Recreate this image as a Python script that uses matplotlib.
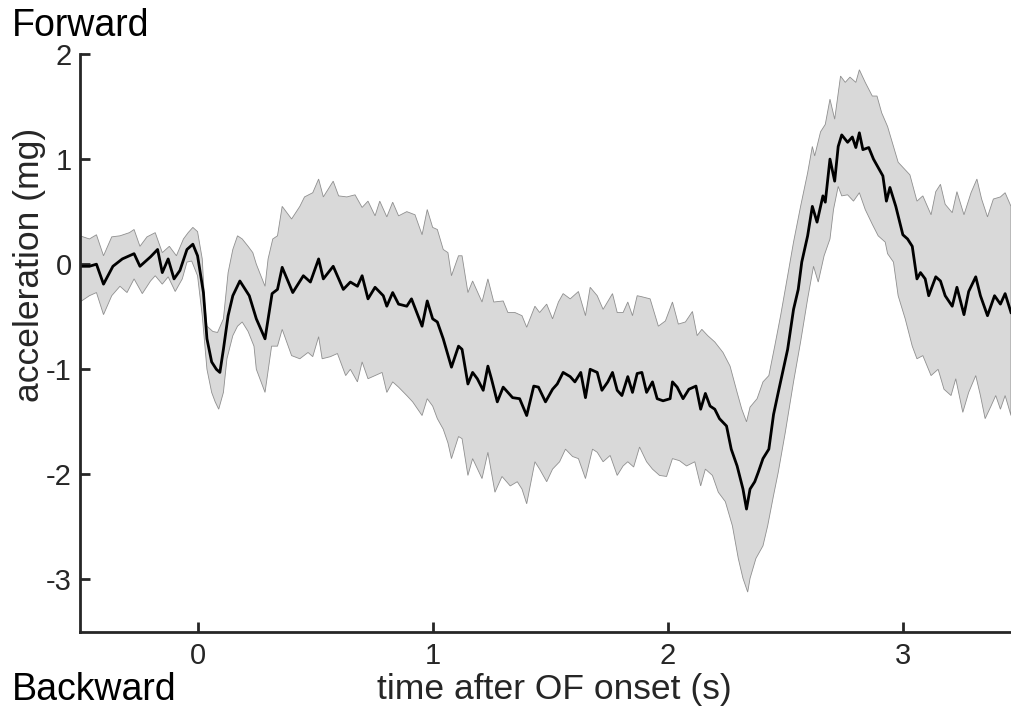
import matplotlib
matplotlib.use('Agg')
import matplotlib.pyplot as plt
import numpy as np

plt.rcParams['font.family'] = ['Liberation Sans', 'DejaVu Sans']
plt.rcParams['axes.unicode_minus'] = False

# === Mean acceleration trace ===
mean_t = [-0.5, -0.46, -0.43, -0.40, -0.36, -0.32, -0.27, -0.245, -0.20, -0.17,
          -0.15, -0.125, -0.10, -0.075, -0.045, -0.02, 0.0, 0.025, 0.04, 0.06,
          0.08, 0.095, 0.11, 0.13, 0.15, 0.18, 0.22, 0.25, 0.287, 0.317,
          0.34, 0.36, 0.405, 0.45, 0.48, 0.515, 0.535, 0.577, 0.62, 0.65,
          0.68, 0.70, 0.725, 0.755, 0.79, 0.805, 0.83, 0.855, 0.89, 0.91,
          0.955, 0.977, 1.0, 1.02, 1.045, 1.08, 1.11, 1.125, 1.15, 1.17,
          1.19, 1.215, 1.235, 1.25, 1.275, 1.30, 1.34, 1.37, 1.40, 1.43,
          1.45, 1.48, 1.51, 1.53, 1.555, 1.585, 1.605, 1.63, 1.65, 1.67,
          1.70, 1.72, 1.745, 1.765, 1.785, 1.805, 1.83, 1.85, 1.87, 1.89,
          1.91, 1.935, 1.955, 1.98, 2.01, 2.02, 2.04, 2.065, 2.09, 2.12,
          2.14, 2.16, 2.18, 2.20, 2.22, 2.25, 2.27, 2.295, 2.32, 2.335,
          2.35, 2.37, 2.385, 2.405, 2.43, 2.45, 2.47, 2.51, 2.535, 2.555,
          2.57, 2.595, 2.615, 2.635, 2.66, 2.67, 2.69, 2.71, 2.725, 2.74,
          2.765, 2.785, 2.80, 2.815, 2.83, 2.855, 2.875, 2.895, 2.915, 2.93,
          2.945, 2.97, 3.0, 3.02, 3.04, 3.06, 3.075, 3.095, 3.11, 3.14,
          3.16, 3.18, 3.21, 3.23, 3.26, 3.28, 3.31, 3.33, 3.36, 3.39,
          3.415, 3.435, 3.46]
mean_acc = [-0.02, -0.02, 0.00, -0.19, -0.02, 0.05, 0.10, -0.02, 0.07, 0.14,
            -0.08, 0.05, -0.14, -0.06, 0.14, 0.19, 0.08, -0.27, -0.71, -0.93,
            -1.00, -1.03, -0.81, -0.49, -0.30, -0.16, -0.30, -0.52, -0.71, -0.28,
            -0.24, -0.03, -0.27, -0.11, -0.17, 0.05, -0.14, -0.02, -0.24, -0.17,
            -0.21, -0.11, -0.33, -0.22, -0.30, -0.40, -0.27, -0.38, -0.40, -0.33,
            -0.59, -0.35, -0.52, -0.55, -0.71, -0.98, -0.78, -0.81, -1.14, -1.03,
            -1.09, -1.20, -0.97, -1.09, -1.31, -1.17, -1.27, -1.28, -1.44, -1.16,
            -1.17, -1.31, -1.19, -1.14, -1.03, -1.07, -1.12, -1.03, -1.27, -1.00,
            -1.03, -1.20, -1.12, -1.03, -1.20, -1.25, -1.07, -1.22, -1.04, -1.03,
            -1.22, -1.12, -1.28, -1.30, -1.28, -1.12, -1.17, -1.28, -1.19, -1.16,
            -1.38, -1.23, -1.35, -1.38, -1.47, -1.54, -1.76, -1.92, -2.14, -2.33,
            -2.14, -2.07, -1.98, -1.85, -1.76, -1.43, -1.22, -0.81, -0.43, -0.24,
            0.02, 0.27, 0.55, 0.40, 0.65, 0.59, 1.00, 0.79, 1.12, 1.23,
            1.16, 1.21, 1.11, 1.25, 1.09, 1.11, 1.00, 0.92, 0.84, 0.60,
            0.73, 0.55, 0.28, 0.24, 0.17, -0.14, -0.08, -0.14, -0.30, -0.12,
            -0.16, -0.30, -0.40, -0.22, -0.48, -0.26, -0.12, -0.30, -0.49, -0.30,
            -0.38, -0.28, -0.46]

# === Upper edge of the shaded band ===
upper_t = [-0.5, -0.46, -0.43, -0.40, -0.365, -0.33, -0.29, -0.27, -0.245, -0.215,
           -0.18, -0.15, -0.12, -0.09, -0.06, -0.04, -0.02, 0.0, 0.02, 0.03,
           0.04, 0.065, 0.085, 0.11, 0.13, 0.15, 0.17, 0.19, 0.215, 0.235,
           0.25, 0.287, 0.30, 0.32, 0.34, 0.36, 0.40, 0.435, 0.455, 0.49,
           0.515, 0.535, 0.577, 0.60, 0.635, 0.67, 0.70, 0.725, 0.755, 0.775,
           0.805, 0.83, 0.855, 0.89, 0.925, 0.955, 0.977, 1.0, 1.02, 1.045,
           1.065, 1.08, 1.11, 1.125, 1.15, 1.17, 1.21, 1.235, 1.26, 1.30,
           1.32, 1.35, 1.38, 1.40, 1.435, 1.455, 1.485, 1.51, 1.535, 1.555,
           1.585, 1.62, 1.65, 1.67, 1.70, 1.725, 1.765, 1.785, 1.81, 1.83,
           1.85, 1.87, 1.89, 1.925, 1.96, 1.99, 2.02, 2.045, 2.075, 2.105,
           2.125, 2.145, 2.17, 2.20, 2.235, 2.265, 2.295, 2.315, 2.335, 2.35,
           2.38, 2.405, 2.43, 2.455, 2.48, 2.51, 2.535, 2.565, 2.595, 2.615,
           2.625, 2.65, 2.67, 2.69, 2.71, 2.735, 2.755, 2.775, 2.80, 2.815,
           2.84, 2.87, 2.89, 2.91, 2.935, 2.98, 3.03, 3.06, 3.085, 3.12,
           3.14, 3.16, 3.18, 3.21, 3.23, 3.26, 3.29, 3.315, 3.335, 3.36,
           3.385, 3.415, 3.435, 3.46]
upper_acc = [0.27, 0.24, 0.28, 0.08, 0.26, 0.27, 0.30, 0.33, 0.17, 0.26,
             0.30, 0.11, 0.17, 0.08, 0.24, 0.30, 0.35, 0.31, 0.05, -0.36,
             -0.59, -0.64, -0.65, -0.52, -0.08, 0.14, 0.27, 0.24, 0.17, 0.11,
             0.00, -0.21, 0.05, 0.24, 0.27, 0.55, 0.43, 0.55, 0.64, 0.68,
             0.81, 0.64, 0.79, 0.65, 0.64, 0.66, 0.54, 0.60, 0.46, 0.60,
             0.45, 0.59, 0.46, 0.50, 0.47, 0.28, 0.52, 0.35, 0.33, 0.14,
             0.11, -0.11, 0.08, 0.08, -0.27, -0.16, -0.36, -0.14, -0.36, -0.35,
             -0.46, -0.46, -0.49, -0.60, -0.40, -0.46, -0.38, -0.52, -0.36, -0.28,
             -0.33, -0.26, -0.49, -0.22, -0.30, -0.43, -0.28, -0.46, -0.46, -0.36,
             -0.49, -0.30, -0.31, -0.33, -0.59, -0.54, -0.36, -0.57, -0.55, -0.45,
             -0.68, -0.62, -0.68, -0.74, -0.84, -0.97, -1.22, -1.38, -1.50, -1.36,
             -1.28, -1.12, -1.06, -0.78, -0.49, -0.11, 0.21, 0.55, 0.87, 1.12,
             1.03, 1.26, 1.33, 1.57, 1.38, 1.79, 1.73, 1.78, 1.73, 1.85,
             1.73, 1.60, 1.60, 1.44, 1.31, 0.97, 0.85, 0.60, 0.65, 0.47,
             0.69, 0.76, 0.57, 0.49, 0.69, 0.47, 0.68, 0.81, 0.62, 0.45,
             0.62, 0.64, 0.68, 0.55]

# === Lower edge of the shaded band ===
lower_t = [-0.5, -0.46, -0.43, -0.40, -0.365, -0.33, -0.30, -0.27, -0.235, -0.20,
           -0.18, -0.15, -0.125, -0.095, -0.065, -0.045, -0.025, 0.0, 0.02, 0.04,
           0.06, 0.075, 0.09, 0.11, 0.125, 0.15, 0.17, 0.19, 0.215, 0.24,
           0.25, 0.287, 0.315, 0.34, 0.36, 0.40, 0.435, 0.47, 0.49, 0.515,
           0.53, 0.565, 0.595, 0.63, 0.65, 0.68, 0.70, 0.725, 0.755, 0.785,
           0.805, 0.83, 0.855, 0.89, 0.915, 0.955, 0.977, 1.0, 1.02, 1.045,
           1.065, 1.08, 1.11, 1.125, 1.15, 1.17, 1.21, 1.235, 1.265, 1.295,
           1.33, 1.36, 1.38, 1.40, 1.435, 1.455, 1.485, 1.51, 1.54, 1.565,
           1.595, 1.62, 1.65, 1.68, 1.70, 1.725, 1.755, 1.785, 1.81, 1.83,
           1.855, 1.88, 1.91, 1.935, 1.965, 1.995, 2.02, 2.05, 2.08, 2.115,
           2.14, 2.16, 2.19, 2.215, 2.245, 2.275, 2.30, 2.32, 2.34, 2.35,
           2.375, 2.405, 2.425, 2.45, 2.47, 2.50, 2.535, 2.565, 2.595, 2.62,
           2.64, 2.665, 2.69, 2.705, 2.725, 2.74, 2.765, 2.79, 2.815, 2.84,
           2.87, 2.895, 2.925, 2.935, 2.96, 2.98, 3.01, 3.04, 3.06, 3.085,
           3.12, 3.15, 3.175, 3.205, 3.225, 3.255, 3.28, 3.31, 3.33, 3.35,
           3.375, 3.395, 3.415, 3.435, 3.46]
lower_acc = [-0.36, -0.30, -0.27, -0.48, -0.30, -0.21, -0.27, -0.14, -0.28, -0.16,
             -0.11, -0.19, -0.12, -0.26, -0.14, 0.02, 0.03, -0.11, -0.49, -1.00,
             -1.22, -1.31, -1.38, -1.22, -0.90, -0.68, -0.59, -0.55, -0.64, -0.78,
             -1.00, -1.22, -0.78, -0.78, -0.62, -0.87, -0.90, -0.84, -0.88, -0.69,
             -0.90, -0.88, -0.85, -1.06, -1.00, -1.12, -0.93, -1.09, -1.06, -1.03,
             -1.22, -1.12, -1.17, -1.25, -1.31, -1.44, -1.28, -1.35, -1.47, -1.57,
             -1.70, -1.85, -1.64, -1.66, -2.01, -1.85, -2.04, -1.79, -2.17, -2.02,
             -2.11, -2.07, -2.14, -2.28, -1.88, -1.95, -2.07, -1.95, -1.88, -1.76,
             -1.83, -1.85, -2.04, -1.76, -1.79, -1.88, -1.82, -2.01, -1.92, -1.88,
             -1.93, -1.74, -1.88, -1.95, -2.01, -2.02, -1.85, -1.87, -1.92, -1.88,
             -2.11, -1.95, -2.01, -2.17, -2.26, -2.49, -2.80, -2.99, -3.12, -2.99,
             -2.80, -2.68, -2.49, -2.20, -1.98, -1.60, -1.12, -0.74, -0.33, -0.02,
             -0.17, 0.08, 0.24, 0.52, 0.74, 0.65, 0.66, 0.60, 0.68, 0.52,
             0.38, 0.27, 0.21, 0.10, 0.02, -0.30, -0.52, -0.78, -0.90, -0.87,
             -1.06, -1.00, -1.19, -1.25, -1.09, -1.41, -1.22, -1.06, -1.25, -1.47,
             -1.35, -1.25, -1.38, -1.25, -1.44]

X_TICKS = [0, 1, 2, 3]
Y_TICKS = [-3, -2, -1, 0, 1, 2]

fig = plt.figure(figsize=(10.11, 7.13), dpi=100)
ax = fig.add_axes([80 / 1011, 1 - 632 / 713, 931 / 1011, (632 - 54) / 713])

# shaded band as one polygon: upper edge forward, lower edge back
band_t = np.r_[upper_t, lower_t[::-1]]
band_v = np.r_[upper_acc, lower_acc[::-1]]
ax.fill(band_t, band_v, facecolor='#d9d9d9', edgecolor='#8f8f8f', linewidth=0.6)
ax.plot(mean_t, mean_acc, color='black', linewidth=2.0)

ax.set_xlim(-0.5, 3.46)
ax.set_ylim(-3.5, 2)
ax.set_xticks(X_TICKS)
ax.set_yticks(Y_TICKS)

for side in ['top', 'right']:
    ax.spines[side].set_visible(False)
for side in ['left', 'bottom']:
    ax.spines[side].set_linewidth(2.0)
    ax.spines[side].set_color('#262626')
ax.tick_params(direction='in', length=7, width=2.0, color='#262626',
               labelsize=21, labelcolor='#262626')
ax.tick_params(axis='x', pad=7)
ax.tick_params(axis='y', pad=6)

ax.set_xlabel('time after OF onset (s)', fontsize=25.5, color='#262626', labelpad=2)
ax.xaxis.label.set_x(0.509)
ax.set_ylabel('acceleration (mg)', fontsize=25.5, color='#262626')
ax.yaxis.set_label_coords(-0.054, 0.635)
ax.yaxis.label.set_va('center')

fig.text(12 / 1011, 1 - 36 / 713, 'Forward', fontsize=27, va='baseline', ha='left')
fig.text(12 / 1011, 1 - 700 / 713, 'Backward', fontsize=27, va='baseline', ha='left')

fig.savefig('out.png', dpi=100)
plt.close(fig)
